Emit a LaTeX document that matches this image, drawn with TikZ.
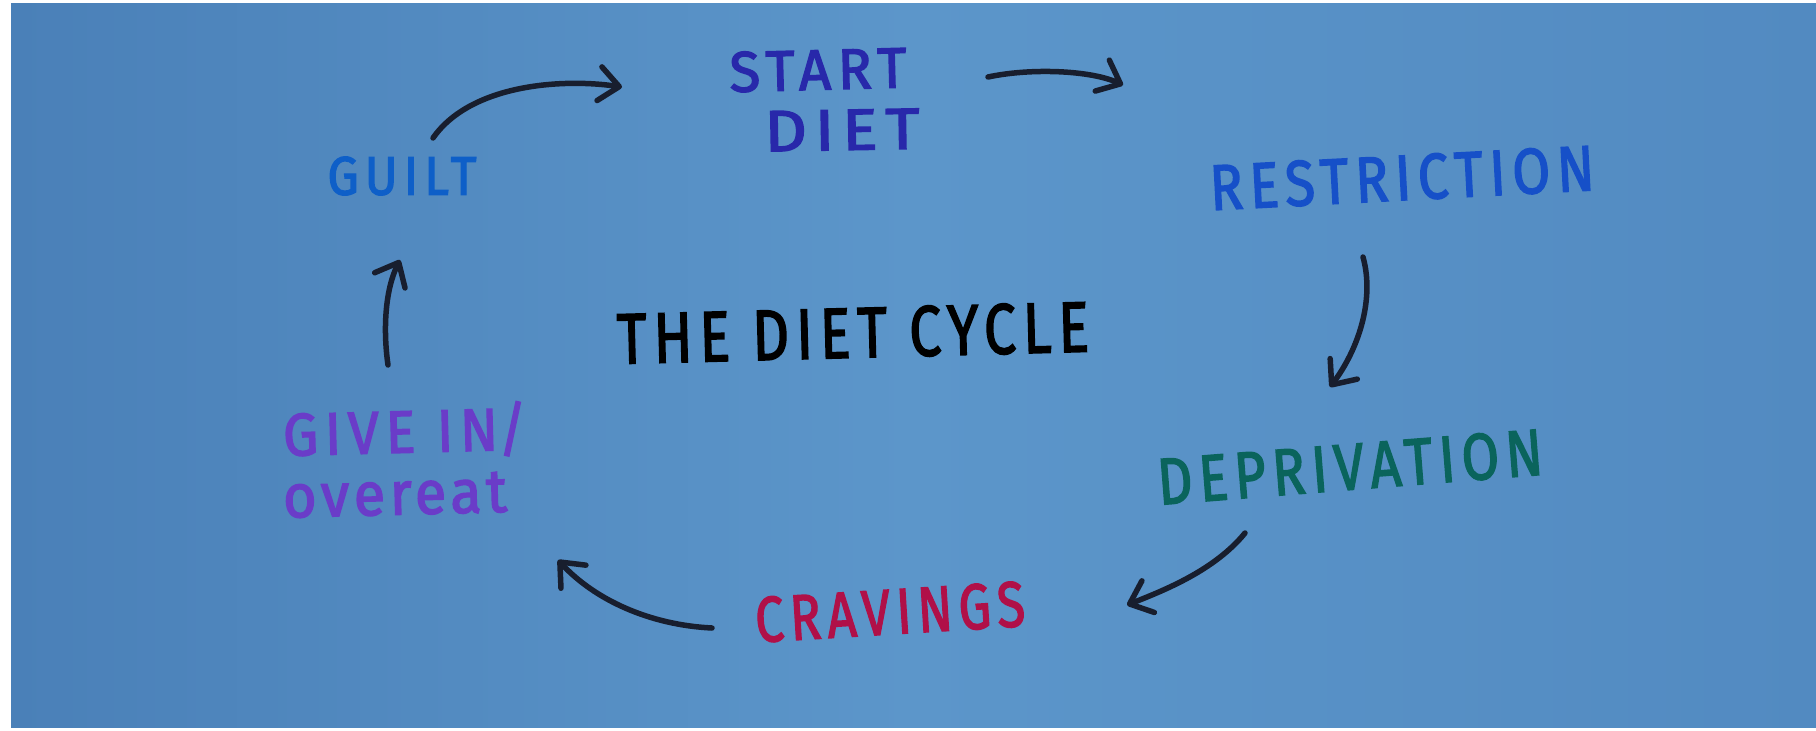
\documentclass[tikz,border=0pt]{standalone}
\usepackage{fontspec}
\usepackage{graphicx}
\usetikzlibrary{arrows.meta}
\newfontfamily\hand[LetterSpace=12,FakeBold=2.4]{Fira Sans}
\newfontfamily\handlc[LetterSpace=8,FakeBold=2.4]{Fira Sans}
\definecolor{paperL}{RGB}{74,128,184}
\definecolor{paperM}{RGB}{92,150,202}
\definecolor{paperR}{RGB}{82,138,193}
\definecolor{ink}{RGB}{24,30,46}
\definecolor{cStart}{RGB}{40,40,170}
\definecolor{cGuilt}{RGB}{14,95,200}
\definecolor{cRestr}{RGB}{22,80,200}
\definecolor{cDepr}{RGB}{10,100,92}
\definecolor{cCrav}{RGB}{176,16,72}
\definecolor{cGive}{RGB}{106,60,200}
\newcommand{\fitto}[3]{\resizebox{#1}{#2}{#3}}
\begin{document}
\begin{tikzpicture}[x=1pt,y=-1pt,
  lbl/.style={inner sep=0pt, anchor=center},
  conn/.style={draw=ink, line width=5.5pt, line cap=round,
    -{Straight Barb[length=20pt,width=34pt,round]}}]
\useasboundingbox (0,0) rectangle (1816,731);
\fill[white] (0,0) rectangle (1816,731);
\shade[left color=paperL, right color=paperR, middle color=paperM] (11,3) rectangle (1816,727);

% labels
\node[lbl, text=cStart, rotate=1.5] (start) at (818,70) {\fitto{177pt}{40pt}{\hand START}};
\node[lbl, text=cStart, rotate=1] (diet) at (842,130) {\fitto{155pt}{40pt}{\hand DIET}};
\node[lbl, text=cGuilt] (guilt) at (402,176) {\fitto{149pt}{38pt}{\hand GUILT}};
\node[lbl, text=cRestr, rotate=3] (restr) at (1402,178) {\fitto{385pt}{45pt}{\hand RESTRICTION}};
\node[lbl, text=cDepr, rotate=4.5] (depr) at (1350,467) {\fitto{386pt}{46pt}{\hand DEPRIVATION}};
\node[lbl, text=cCrav, rotate=3.5] (crav) at (890,612) {\fitto{270pt}{45pt}{\hand CRAVINGS}};
\node[lbl, text=cGive, rotate=1.5] (give) at (405,432) {\fitto{244pt}{42pt}{\hand GIVE IN\raisebox{0pt}[0pt][0pt]{/}}};
\node[lbl, text=cGive, rotate=1.5] (over) at (395,495) {\fitto{224pt}{40pt}{\handlc overeat}};
\node[lbl, text=black, rotate=1.5] (title) at (853,333) {\fitto{472pt}{50pt}{\hand THE DIET CYCLE}};

% connector end points
\coordinate (a1) at (433,138); \coordinate (a2) at (622,87);
\coordinate (b1) at (988,77);  \coordinate (b2) at (1123,85);
\coordinate (c1) at (1363,257); \coordinate (c2) at (1330,387);
\coordinate (d1) at (1245,533); \coordinate (d2) at (1127,605);
\coordinate (e1) at (712,628); \coordinate (e2) at (558,560);
\coordinate (f1) at (388,365); \coordinate (f2) at (400,260);

\draw[conn] (a1) .. controls (470,85) and (560,78) .. (a2);
\draw[conn] (b1) .. controls (1030,68) and (1090,70) .. (b2);
\draw[conn] (c1) .. controls (1375,300) and (1358,350) .. (c2);
\draw[conn] (d1) .. controls (1215,570) and (1165,590) .. (d2);
\draw[conn] (e1) .. controls (650,625) and (595,600) .. (e2);
\draw[conn] (f1) .. controls (383,330) and (385,290) .. (f2);
\end{tikzpicture}
\end{document}
